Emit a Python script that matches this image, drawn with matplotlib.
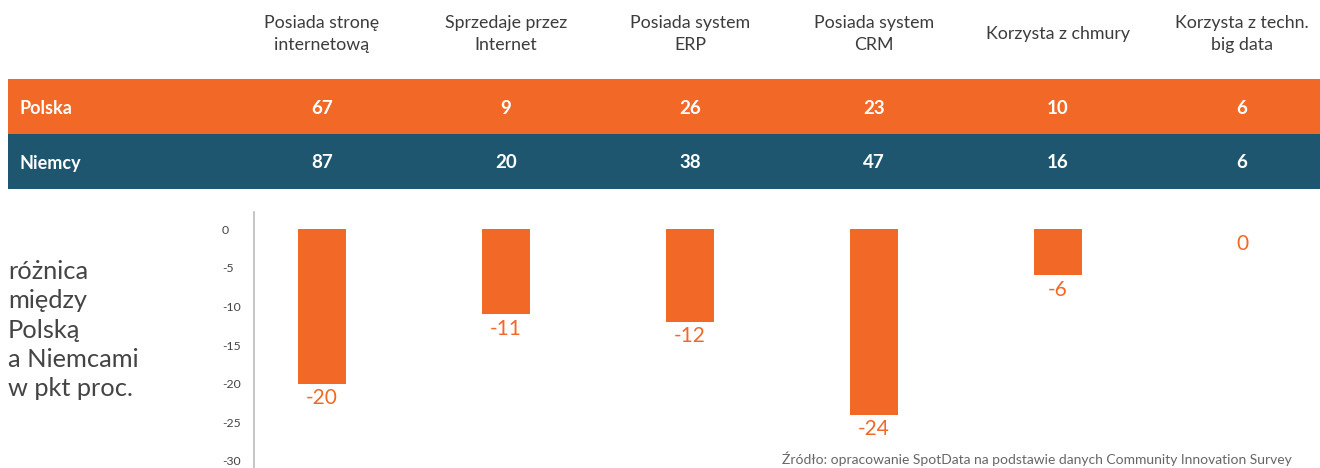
import matplotlib
matplotlib.use("Agg")
import matplotlib.pyplot as plt
import numpy as np

plt.rcParams["font.family"] = ["Lato", "DejaVu Sans"]

categories = [
    "Posiada stronę\ninternetową",
    "Sprzedaje przez\nInternet",
    "Posiada system\nERP",
    "Posiada system\nCRM",
    "Korzysta z chmury",
    "Korzysta z techn.\nbig data",
]
countries = ["Polska", "Niemcy"]
polska = [67, 9, 26, 23, 10, 6]
niemcy = [87, 20, 38, 47, 16, 6]
diff = [p - n for p, n in zip(polska, niemcy)]
yticks = [0, -5, -10, -15, -20, -25, -30]

ORANGE = "#F26826"
TEAL = "#1F566F"
GRAY = "#444444"

W, H = 1320, 468
fig = plt.figure(figsize=(W / 100, H / 100), dpi=100)


def box(x0, y0, x1, y1):
    # pixel box (top-left origin) -> figure rect
    return [x0 / W, 1 - y1 / H, (x1 - x0) / W, (y1 - y0) / H]


col_step = 184.0
col0 = 322.0

# ---- table on top
tab = fig.add_axes(box(8, 0, 1320, 189))
tab.set_xlim(-(col0 - 8) / col_step, (1320 - col0) / col_step)
row_h = 55.0
tab.set_ylim(1.5, -106.5 / row_h)
tab.axis("off")
row_colors = [ORANGE, TEAL]
for r, (name, vals) in enumerate(zip(countries, [polska, niemcy])):
    tab.axhspan(r - 0.5, r + 0.5, color=row_colors[r], lw=0)
    tab.text(0.009, r, name, transform=tab.get_yaxis_transform(), color="white",
             fontsize=13, fontweight="bold", ha="left", va="center_baseline")
    for i, v in enumerate(vals):
        tab.text(i, r, str(v), color="white", fontsize=13.5, fontweight="bold",
                 ha="center", va="center_baseline")
for i, c in enumerate(categories):
    tab.text(i, -1.32, c, color="#3c3c3c", fontsize=12.8, fontweight="normal",
             ha="center", va="center", linespacing=1.45)

# ---- difference bars
ax = fig.add_axes(box(254, 212, 1320, 468))
x = np.arange(len(diff))
ax.bar(x, diff, width=0.26, color=ORANGE)
ax.set_xlim(-(col0 - 254) / col_step, (1320 - col0) / col_step)
ppu = 7.73
ax.set_ylim(-30 - 7 / ppu, 17 / ppu)
for xi, d in zip(x, diff):
    ax.text(xi, d - 0.6, str(d), color=ORANGE, fontsize=15, fontweight="normal",
            ha="center", va="top")
for s in ["top", "right", "bottom"]:
    ax.spines[s].set_visible(False)
ax.spines["left"].set_color("#bbbbbb")
ax.spines["left"].set_linewidth(1.2)
ax.set_xticks([])
ax.set_yticks(yticks)
ax.set_yticklabels([str(t) for t in yticks])
ax.tick_params(axis="y", length=0, pad=23, labelsize=8.8, labelcolor=GRAY)
for lbl in ax.get_yticklabels():
    lbl.set_horizontalalignment("left")

fig.text(8 / W, 1 - 260 / H,
         "różnica\nmiędzy\nPolską\na Niemcami\nw pkt proc.",
         color=GRAY, fontsize=18.3, ha="left", va="top", linespacing=1.33)

fig.text(782 / W, 1 - 452 / H,
         "Źródło: opracowanie SpotData na podstawie danych Community Innovation Survey",
         color="#666666", fontsize=10, ha="left", va="top")

fig.savefig("out.png", dpi=100)
